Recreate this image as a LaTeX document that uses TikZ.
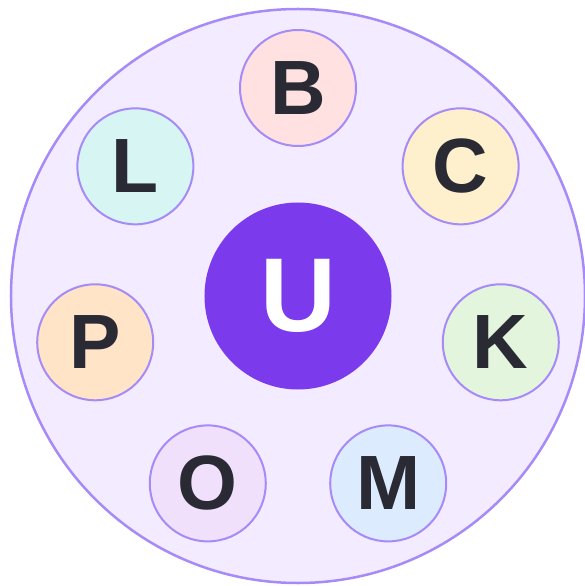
\documentclass[tikz,border=0pt]{standalone}
\usepackage{fontspec}
\setmainfont{Liberation Sans}
\usetikzlibrary{positioning}

\definecolor{ringline}{HTML}{A68BF8}
\definecolor{ringfill}{HTML}{F3EBFF}
\definecolor{corefill}{HTML}{7C3AED}
\definecolor{inkdark}{HTML}{2A2A35}
\definecolor{bfill}{HTML}{FFE1E1}
\definecolor{cfill}{HTML}{FEF0CD}
\definecolor{kfill}{HTML}{E3F5DD}
\definecolor{mfill}{HTML}{DDEBFF}
\definecolor{ofill}{HTML}{F0E0FB}
\definecolor{pfill}{HTML}{FFE4C8}
\definecolor{lfill}{HTML}{D6F5F3}

\begin{document}
\begin{tikzpicture}[
    x=1pt, y=1pt,
    orbit/.style={circle, draw=ringline, line width=2pt, inner sep=0pt,
                  minimum size=116pt, text=inkdark,
                  font=\fontsize{77}{77}\selectfont\bfseries},
    core/.style={circle, fill=corefill, inner sep=0pt, minimum size=187pt,
                 text=white, font=\fontsize{105}{105}\selectfont\bfseries}
]
  \useasboundingbox (-298,-290) rectangle (286,296);

  % outer ring
  \node[circle, draw=ringline, fill=ringfill, line width=2.5pt,
        minimum size=574pt, inner sep=0pt] (ring) at (0,0) {};

  % centre
  \node[core] (u) at (0,0) {U};

  % seven around it
  \node[orbit, fill=bfill] (b) at (90:208) {B};
  \node[orbit, fill=cfill] (c) at (38.57:208) {C};
  \node[orbit, fill=kfill] (k) at (-12.86:208) {K};
  \node[orbit, fill=mfill] (m) at (-64.29:208) {M};
  \node[orbit, fill=ofill] (o) at (-115.71:208) {O};
  \node[orbit, fill=pfill] (p) at (-167.14:208) {P};
  \node[orbit, fill=lfill] (l) at (141.43:208) {L};
\end{tikzpicture}
\end{document}
